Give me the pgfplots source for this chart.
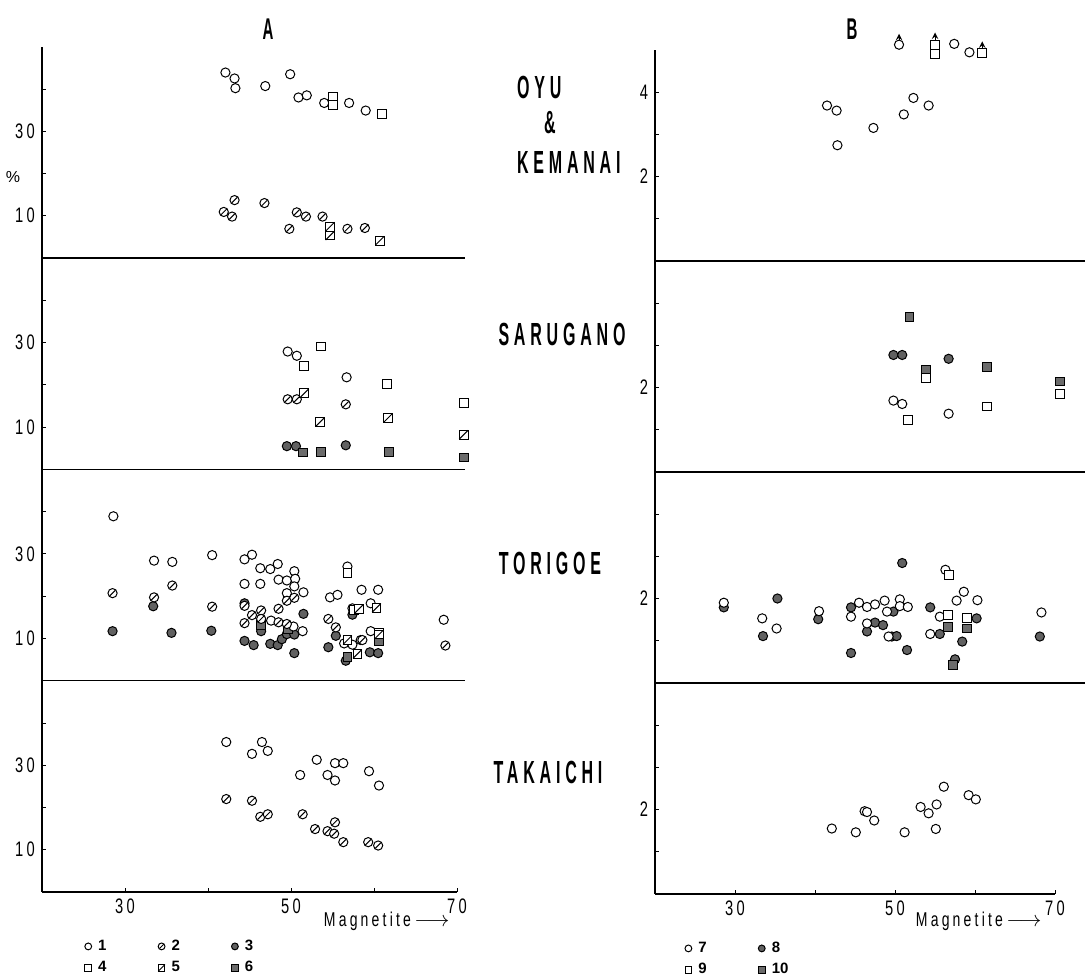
\documentclass[border=0pt]{standalone}
\usepackage{fontspec}
\setmainfont{Liberation Sans}
\newfontfamily\cf[FakeStretch=0.7,LetterSpace=16]{Liberation Sans}
\newfontfamily\stf[FakeStretch=0.5,LetterSpace=15]{Liberation Sans}
\usepackage{pgfplots}
\pgfplotsset{compat=1.18}

\pgfdeclareplotmark{oslash}{%
  \pgfpathcircle{\pgfpointorigin}{\pgfplotmarksize}\pgfusepathqfillstroke
  \pgfpathmoveto{\pgfpoint{-0.62\pgfplotmarksize}{-0.62\pgfplotmarksize}}%
  \pgfpathlineto{\pgfpoint{0.62\pgfplotmarksize}{0.62\pgfplotmarksize}}%
  \pgfusepathqstroke}
\pgfdeclareplotmark{sqslash}{%
  \pgfpathrectangle{\pgfpoint{-\pgfplotmarksize}{-\pgfplotmarksize}}{\pgfpoint{2\pgfplotmarksize}{2\pgfplotmarksize}}\pgfusepathqfillstroke
  \pgfpathmoveto{\pgfpoint{-\pgfplotmarksize}{-\pgfplotmarksize}}%
  \pgfpathlineto{\pgfpoint{\pgfplotmarksize}{\pgfplotmarksize}}%
  \pgfusepathqstroke}

\pgfplotsset{
  sub/.style={scale only axis, height=105.6pt, ymin=0, xmin=20,
    axis x line*=bottom, axis y line*=left,
    axis line style={-, line width=0.6pt, black},
    tick style={line width=0.5pt, black}, major tick length=2.2pt,
    clip=false, anchor=south west,
    ticklabel style={font=\cf\fontsize{10.5}{11}\selectfont},
    /pgf/number format/assume math mode=true},
  subA/.style={sub, ymax=50, ytick={10,20,30,40}, yticklabels={10,,30,}},
  subB/.style={sub, ymax=5, ytick={1,2,3,4}, yticklabels={,2,,}},
  topx/.style={xtick=\empty},
  botx/.style={xmax=70, xtick={30,40,50,60,70}, xticklabels={30,,50,,70}},
  s1/.style={only marks, mark=*, mark size=2.3pt, mark options={draw=black, fill=white, line width=0.5pt}},
  s2/.style={only marks, mark=oslash, mark size=2.3pt, mark options={draw=black, fill=white, line width=0.5pt}},
  s3/.style={only marks, mark=*, mark size=2.3pt, mark options={draw=black, fill=black!62, line width=0.5pt}},
  s4/.style={only marks, mark=square*, mark size=2.2pt, mark options={draw=black, fill=white, line width=0.5pt}},
  s5/.style={only marks, mark=sqslash, mark size=2.2pt, mark options={draw=black, fill=white, line width=0.5pt}},
  s6/.style={only marks, mark=square*, mark size=2.2pt, mark options={draw=black, fill=black!58, line width=0.5pt}},
  leg/.style={legend style={anchor=north west, draw=none, fill=none, legend columns=3, inner sep=0pt,
      font=\bfseries\fontsize{7.5}{8}\selectfont, cells={anchor=west}, row sep=0pt,
      /tikz/every even column/.append style={column sep=22.5pt}},
    legend image code/.code={\path[draw=none,fill=none] (0pt,-2pt) rectangle (6pt,2pt); \draw[##1, mark size=1.7pt] plot coordinates {(3pt,0pt)};}},
}

\begin{document}
\begin{tikzpicture}
\path[use as bounding box] (0,0) rectangle (545pt,488.5pt);

% ================= PANEL A =================
% OYU & KEMANAI
\begin{axis}[subA, topx, at={(21pt,359.5pt)}, width=211.65pt, xmax=71]
\addplot[s1] coordinates {(42.1,43.9) (43.2,42.5) (43.3,40.2) (46.9,40.7) (49.9,43.5) (50.9,38.0) (51.9,38.5) (54.0,36.7) (57.0,36.7) (59.0,34.9)};
\addplot[s4] coordinates {(55.1,38.2) (55.1,36.3) (61.0,34.1)};
\addplot[s2] coordinates {(43.2,13.7) (46.8,13.0) (41.9,10.9) (42.9,9.8) (50.7,10.8) (51.8,9.8) (53.8,9.8) (49.8,6.9) (56.8,6.9) (58.9,7.1)};
\addplot[s5] coordinates {(54.7,7.4) (54.7,5.3) (60.7,4.1)};
\end{axis}

% SARUGANO
\begin{axis}[subA, topx, at={(21pt,253.8pt)}, width=211.65pt, xmax=71]
\addplot[s1] coordinates {(49.6,27.9) (50.7,26.9) (56.7,21.8)};
\addplot[s4] coordinates {(53.6,29.1) (51.6,24.4) (61.6,20.2) (70.8,15.8)};
\addplot[s2] coordinates {(49.6,16.6) (50.7,16.6) (56.6,15.4)};
\addplot[s5] coordinates {(51.6,18.0) (53.5,11.2) (61.7,12.2) (70.8,8.2)};
\addplot[s3] coordinates {(49.5,5.5) (50.6,5.5) (56.6,5.7)};
\addplot[s6] coordinates {(51.4,4.0) (53.6,4.2) (61.8,4.2) (70.8,2.8)};
\end{axis}

% TORIGOE
\begin{axis}[subA, topx, at={(21pt,148.2pt)}, width=211.65pt, xmax=71]
\addplot[s3] coordinates {(28.5,11.7) (33.4,17.6) (35.6,11.3) (40.4,11.8) (44.4,18.3) (44.4,9.4) (45.5,8.4) (46.4,11.7) (47.5,8.7) (48.4,8.4) (48.9,9.8) (49.5,11.0) (50.4,10.9) (50.4,6.5) (51.5,15.8) (54.5,7.9) (55.4,10.6) (57.4,15.6) (56.6,4.7) (59.5,6.7) (60.5,6.5)};
\addplot[s6] coordinates {(46.4,13.2) (56.8,5.5) (60.6,9.4) (49.6,12.2)};
\addplot[s1] coordinates {(28.6,38.9) (33.5,28.4) (35.7,28.1) (40.5,29.7) (44.4,28.7) (45.3,29.8) (44.4,22.9) (46.3,26.6) (46.3,22.9) (47.5,26.4) (48.4,27.6) (48.5,23.9) (49.5,23.7) (50.4,25.9) (50.5,24.1) (50.4,22.3) (49.5,20.7) (51.5,20.9) (54.7,19.7) (55.6,20.3) (58.5,21.5) (60.5,21.5) (59.6,18.3) (57.4,17.1) (68.4,14.4) (56.4,8.8) (57.4,8.5) (58.4,9.6) (59.6,11.7) (50.3,12.8) (51.4,11.7) (47.6,14.2) (56.8,27.0)};
\addplot[s2] coordinates {(28.5,20.7) (33.5,19.7) (35.7,22.5) (40.5,17.5) (44.4,17.7) (44.4,13.6) (45.3,15.5) (46.4,16.6) (46.4,14.6) (48.5,13.8) (48.5,17.0) (49.5,18.9) (50.4,19.6) (49.5,13.4) (54.5,14.6) (55.4,12.6) (58.6,9.6) (68.6,8.3)};
\addplot[s4] coordinates {(56.8,25.4) (57.6,16.7) (60.6,11.2)};
\addplot[s5] coordinates {(58.2,17.0) (60.3,17.2) (56.8,9.6) (58.0,6.3) (60.6,10.9)};
\end{axis}

% TAKAICHI
\begin{axis}[subA, botx, leg, at={(21pt,42.5pt)}, width=207.5pt,
  legend style={at={(0.096,-0.205)}}]
\addlegendimage{s1}\addlegendentry{1}
\addlegendimage{s2}\addlegendentry{2}
\addlegendimage{s3}\addlegendentry{3}
\addlegendimage{s4}\addlegendentry{4}
\addlegendimage{s5}\addlegendentry{5}
\addlegendimage{s6}\addlegendentry{6}
\addplot[s1, forget plot] coordinates {(42.2,35.5) (46.5,35.5) (45.3,32.7) (47.2,33.4) (53.1,31.3) (55.3,30.5) (56.3,30.5) (51.1,27.7) (54.4,27.7) (55.3,26.4) (59.4,28.6) (60.6,25.2)};
\addplot[s2, forget plot] coordinates {(42.2,22.0) (45.3,21.6) (46.3,17.8) (47.2,18.4) (51.4,18.4) (52.9,14.9) (54.4,14.4) (55.3,16.5) (55.2,13.8) (56.3,11.8) (59.3,11.8) (60.5,11.0)};
\end{axis}

% ================= PANEL B =================
\begin{axis}[subB, topx, at={(327.5pt,358pt)}, width=215.2pt, xmax=73.8, yticklabels={,2,,4}]
\addplot[s1] coordinates {(41.5,3.68) (42.7,3.56) (42.8,2.74) (47.3,3.15) (51.1,3.47) (52.3,3.86) (54.2,3.68) (50.5,5.12) (57.4,5.14) (59.3,4.94)};
\addplot[s4] coordinates {(55.0,5.12) (55.0,4.90) (60.9,4.92)};
\addplot[-stealth, line width=0.45pt, black, quiver={u=0, v=0.17}] coordinates {(50.5,5.21) (55.0,5.24) (60.9,5.03)};
\end{axis}

\begin{axis}[subB, topx, at={(327.5pt,252.5pt)}, width=215.2pt, xmax=73.8]
\addplot[s6] coordinates {(51.8,3.66) (53.9,2.41) (61.5,2.49) (70.6,2.14)};
\addplot[s3] coordinates {(49.8,2.77) (50.9,2.77) (56.7,2.68)};
\addplot[s1] coordinates {(49.8,1.69) (50.9,1.61) (56.7,1.38)};
\addplot[s4] coordinates {(51.6,1.23) (61.5,1.55) (70.6,1.84) (53.9,2.23)};
\end{axis}

\begin{axis}[subB, topx, at={(327.5pt,147pt)}, width=215.2pt, xmax=73.8]
\addplot[s3] coordinates {(28.6,1.79) (33.5,1.11) (35.3,2.00) (40.4,1.51) (44.5,1.79) (44.5,0.71) (46.5,1.22) (47.5,1.43) (48.5,1.37) (49.8,1.69) (49.6,1.10) (50.2,1.11) (50.9,2.84) (51.5,0.78) (54.4,1.79) (55.6,1.16) (58.4,0.98) (60.2,1.53) (57.5,0.56) (68.1,1.10)};
\addplot[s1] coordinates {(28.6,1.90) (33.4,1.53) (35.2,1.29) (40.5,1.70) (44.5,1.57) (45.5,1.90) (46.5,1.80) (46.5,1.41) (47.5,1.86) (48.7,1.95) (50.6,1.98) (50.6,1.82) (51.6,1.80) (49.0,1.69) (49.2,1.10) (54.4,1.16) (55.6,1.57) (56.3,2.68) (57.7,1.95) (58.6,2.16) (60.3,1.96) (68.3,1.67)};
\addplot[s4] coordinates {(56.7,2.55) (56.6,1.61) (59.0,1.53)};
\addplot[s6] coordinates {(56.6,1.32) (59.0,1.29) (57.2,0.43)};
\end{axis}

\begin{axis}[subB, botx, leg, at={(327.5pt,41.5pt)}, width=200pt,
  legend style={legend columns=2, at={(0.0675,-0.205)}}]
\addlegendimage{s1}\addlegendentry{7}
\addlegendimage{s3}\addlegendentry{8}
\addlegendimage{s4}\addlegendentry{9}
\addlegendimage{s6}\addlegendentry{10}
\addplot[s1, forget plot] coordinates {(42.1,1.55) (45.1,1.46) (46.2,1.96) (46.5,1.94) (47.4,1.74) (51.2,1.46) (53.2,2.06) (54.2,1.91) (55.2,2.12) (55.1,1.54) (56.1,2.54) (59.2,2.34) (60.1,2.24)};
\end{axis}

% ================= TEXT =================
\node[font=\stf\bfseries\fontsize{15}{15}\selectfont] at (134pt,474pt) {A};
\node[font=\stf\bfseries\fontsize{15}{15}\selectfont] at (426pt,474pt) {B};
\node[font=\fontsize{8}{8}\selectfont] at (6.5pt,400pt) {\%};

\node[font=\stf\bfseries\fontsize{16}{16}\selectfont, anchor=west] at (255pt,444.5pt) {OYU};
\node[font=\stf\bfseries\fontsize{16}{16}\selectfont] at (275pt,427pt) {\&};
\node[font=\stf\bfseries\fontsize{16}{16}\selectfont, anchor=west] at (255pt,407pt) {KEMANAI};
\node[font=\stf\bfseries\fontsize{16}{16}\selectfont] at (281pt,321pt) {SARUGANO};
\node[font=\stf\bfseries\fontsize{16}{16}\selectfont] at (275pt,207pt) {TORIGOE};
\node[font=\stf\bfseries\fontsize{16}{16}\selectfont] at (274pt,102.5pt) {TAKAICHI};

\node[font=\cf\fontsize{10}{10}\selectfont, anchor=east, inner sep=0pt] at (225pt,28pt) {Magnetite\,{\fontsize{11}{11}\selectfont$\longrightarrow$}};
\node[font=\cf\fontsize{10}{10}\selectfont, anchor=east, inner sep=0pt] at (521pt,28pt) {Magnetite\,{\fontsize{11}{11}\selectfont$\longrightarrow$}};
\end{tikzpicture}
\end{document}
